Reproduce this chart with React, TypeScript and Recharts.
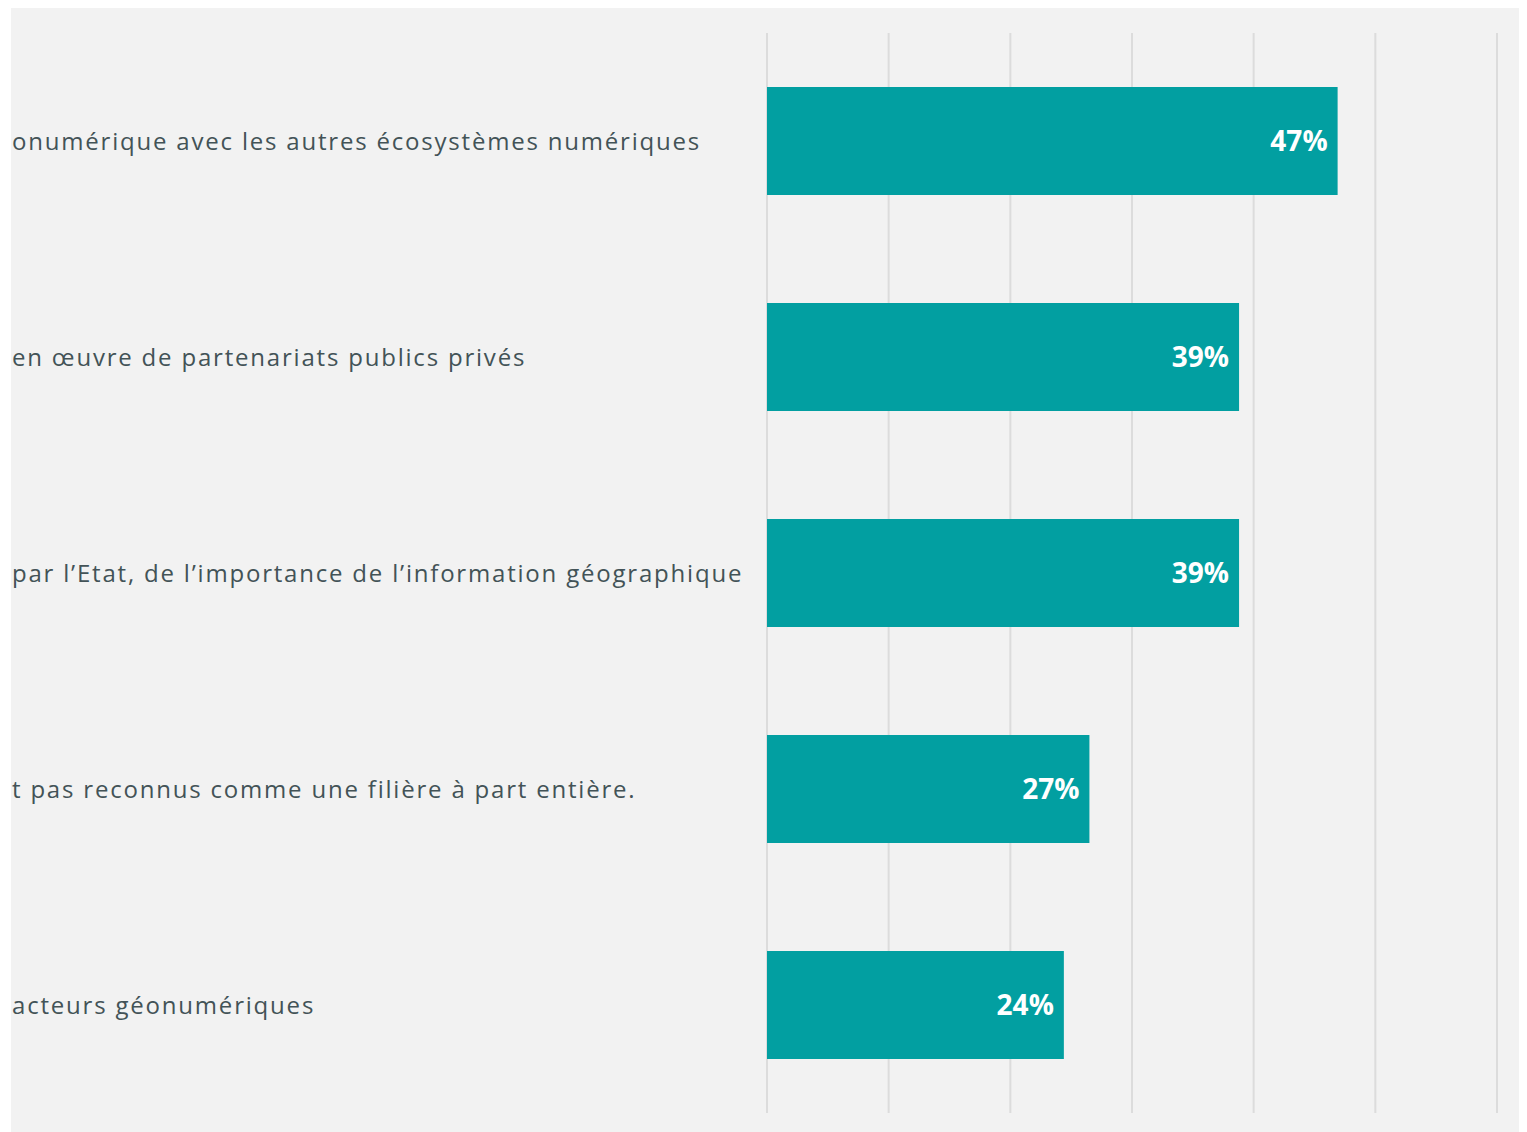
import React from "react";
import { BarChart, Bar, XAxis, YAxis, CartesianGrid, LabelList } from "recharts";

const categories = [
  "onumérique avec les autres écosystèmes numériques",
  "en œuvre de partenariats publics privés",
  "par l’Etat, de l’importance de l’information géographique",
  "t pas reconnus comme une filière à part entière.",
  "acteurs géonumériques",
];
const values = [46.9, 38.8, 38.8, 26.5, 24.4];
const xTicks = [0, 10, 20, 30, 40, 50, 60];

const data = categories.map((c, i) => ({ name: c, value: values[i] }));

const LabelTick = (props: any) => {
  const { y, payload } = props;
  return (
    <text
      x={1}
      y={y}
      dy={9}
      textAnchor="start"
      fill="#435357"
      fontFamily="'Open Sans', sans-serif"
      fontSize={24}
      letterSpacing={1.8}
    >
      {payload.value}
    </text>
  );
};

export default function App() {
  return (
    <div
      style={{
        marginLeft: 3,
        marginTop: -2,
        width: 1512,
        height: 1128,
        background: "#f2f2f2",
        overflow: "hidden",
      }}
    >
      <BarChart
        width={1512}
        height={1126}
        data={data}
        layout="vertical"
        margin={{ top: 27, right: 26, bottom: 19, left: 0 }}
      >
        <CartesianGrid horizontal={false} vertical={true} stroke="#dcdcdc" strokeWidth={2} />
        <XAxis type="number" domain={[0, 60]} ticks={xTicks} hide />
        <YAxis
          type="category"
          dataKey="name"
          width={756}
          axisLine={false}
          tickLine={false}
          tick={<LabelTick />}
          interval={0}
        />
        <Bar dataKey="value" fill="#029fa1" isAnimationActive={false} barSize={108}>
          <LabelList
            dataKey="value"
            position="insideRight"
            offset={10}
            formatter={(v: any) => `${Math.round(Number(v))}%`}
            fill="#ffffff"
            fontFamily="'Open Sans', sans-serif"
            fontWeight="bold"
            fontSize={28}
          />
        </Bar>
      </BarChart>
    </div>
  );
}
